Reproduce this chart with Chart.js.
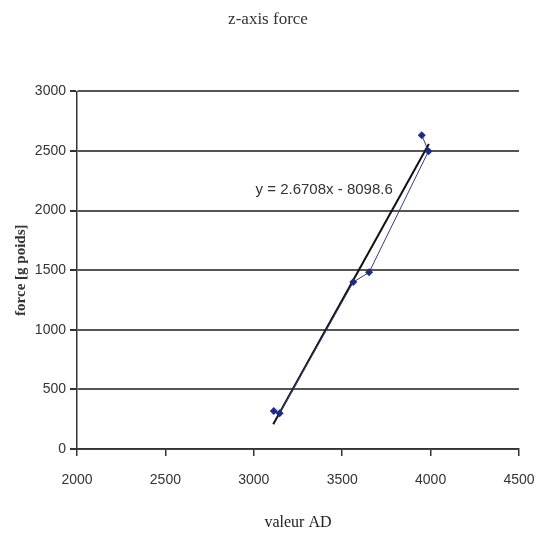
<!DOCTYPE html>
<html>
<head>
<meta charset="utf-8">
<script src="https://cdn.jsdelivr.net/npm/chart.js@4/dist/chart.umd.min.js"></script>
<style>
  body { margin: 0; background: #fff; }
  #wrap { width: 536px; height: 536px; }
</style>
</head>
<body>
<div id="wrap"><canvas id="zforce"></canvas></div>
<script>
// measured points (valeur AD vs force), in the order they are joined
const adValues = [3113, 3146, 3563, 3652, 3988, 3950];
const forceValues = [319, 300, 1401, 1482, 2498, 2633];

// linear trendline end points
const trendAd = [3110, 3990];
const trendForce = [207, 2558];
const trendLabel = 'y = 2.6708x - 8098.6';

const xTicks = [2000, 2500, 3000, 3500, 4000, 4500];
const yTicks = [0, 500, 1000, 1500, 2000, 2500, 3000];

const labelPlugin = {
  id: 'trendLabel',
  afterDatasetsDraw(chart) {
    const ctx = chart.ctx;
    const x = chart.scales.x.getPixelForValue(3398);
    const y = chart.scales.y.getPixelForValue(2176);
    ctx.save();
    ctx.font = '15px "Liberation Sans", sans-serif';
    ctx.fillStyle = '#333';
    ctx.textAlign = 'center';
    ctx.textBaseline = 'middle';
    ctx.fillText(trendLabel, x, y);
    ctx.restore();
  }
};

const tickFont = { family: '"Liberation Sans Narrow", "Liberation Sans", sans-serif', size: 14 };

new Chart(document.getElementById('zforce'), {
  type: 'scatter',
  data: {
    datasets: [
      {
        label: 'mesures',
        data: adValues.map((v, i) => ({ x: v, y: forceValues[i] })),
        showLine: true,
        borderColor: '#3a3a7a',
        borderWidth: 1,
        backgroundColor: '#1c2a8a',
        pointStyle: 'rectRot',
        pointRadius: 4,
        pointBorderWidth: 0
      },
      {
        label: 'tendance',
        data: trendAd.map((v, i) => ({ x: v, y: trendForce[i] })),
        showLine: true,
        borderColor: '#111',
        borderWidth: 2,
        pointRadius: 0
      }
    ]
  },
  options: {
    responsive: true,
    maintainAspectRatio: false,
    animation: false,
    layout: { padding: 0 },
    plugins: {
      legend: { display: false },
      tooltip: { enabled: false },
      title: {
        display: true,
        text: 'z-axis force',
        color: '#333',
        font: { family: '"Liberation Serif", serif', size: 17, weight: 'normal' },
        padding: { top: 9, bottom: 62 }
      }
    },
    scales: {
      x: {
        type: 'linear',
        min: 2000,
        max: 4500,
        afterBuildTicks: s => { s.ticks = xTicks.map(v => ({ value: v })); },
        afterFit: s => { s.height = 87; s.paddingRight = 17; s.paddingLeft = 0; },
        grid: { color: 'transparent', tickColor: '#333', tickLength: 7, lineWidth: 1.5 },
        border: { color: '#333', width: 1.5 },
        ticks: { color: '#333', font: tickFont, padding: 16, maxRotation: 0, callback: v => String(v) },
        title: {
          display: true,
          text: 'valeur AD',
          color: '#222',
          font: { family: '"Liberation Serif", serif', size: 16 },
          padding: { top: 4 }
        }
      },
      y: {
        min: 0,
        max: 3000,
        afterBuildTicks: s => { s.ticks = yTicks.map(v => ({ value: v })); },
        afterFit: s => { s.width = 77; },
        grid: { color: '#555', tickColor: '#333', tickLength: 7, lineWidth: 2 },
        border: { color: '#333', width: 1.5 },
        ticks: { color: '#333', font: tickFont, padding: 4, callback: v => String(v) },
        title: {
          display: true,
          text: 'force [g poids]',
          color: '#333',
          font: { family: '"Liberation Serif", serif', size: 15, weight: 'bold' },
          padding: { top: 12, bottom: 2 }
        }
      }
    }
  },
  plugins: [labelPlugin]
});
</script>
</body>
</html>
